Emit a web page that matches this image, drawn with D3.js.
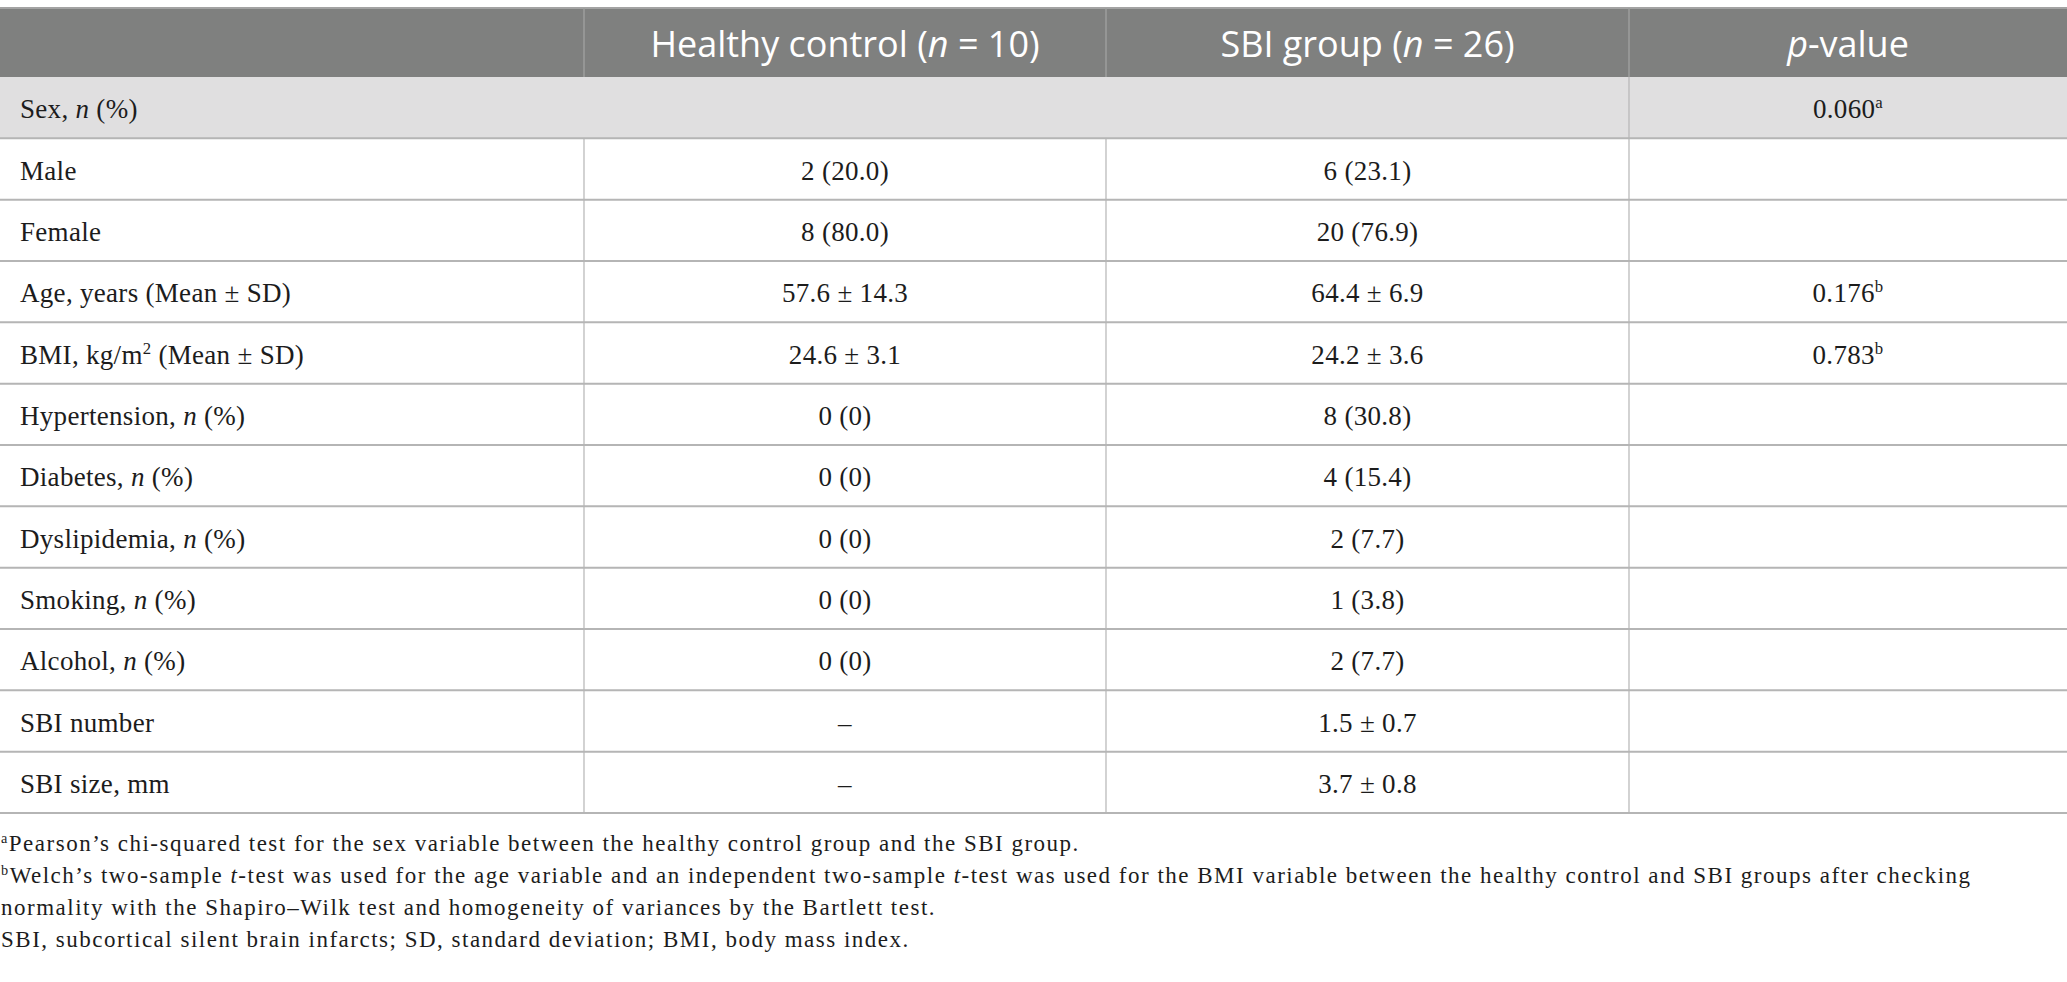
<!DOCTYPE html>
<html lang="en">
<head>
  <meta charset="UTF-8">
  <title>Table</title>
  <script src="https://d3js.org/d3.v7.min.js" charset="utf-8"></script>
  <style>
    body { margin: 0; background: #fff; }
    .cell { font-family: 'Liberation Serif', serif; font-size: 27px; fill: #1c1c1c; letter-spacing: 0.3px; }
    .head { font-family: 'Open Sans', sans-serif; font-size: 36px; fill: #fff; }
    .note { font-family: 'Liberation Serif', serif; font-size: 23px; fill: #1c1c1c; letter-spacing: 1.5px; }
  </style>
</head>
<body>
<div class="div1"></div>
</body>
<script>
  // *x* = italic, ^x = superscript
  var headers = ['', 'Healthy control (*n* = 10)', 'SBI group (*n* = 26)', '*p*-value']
  var rowLabels = ['Sex, *n* (%)', 'Male', 'Female', 'Age, years (Mean ± SD)', 'BMI, kg/m^2 (Mean ± SD)',
    'Hypertension, *n* (%)', 'Diabetes, *n* (%)', 'Dyslipidemia, *n* (%)', 'Smoking, *n* (%)',
    'Alcohol, *n* (%)', 'SBI number', 'SBI size, mm']
  var controlValues = ['', '2 (20.0)', '8 (80.0)', '57.6 ± 14.3', '24.6 ± 3.1', '0 (0)', '0 (0)',
    '0 (0)', '0 (0)', '0 (0)', '–', '–']
  var sbiValues = ['', '6 (23.1)', '20 (76.9)', '64.4 ± 6.9', '24.2 ± 3.6', '8 (30.8)', '4 (15.4)',
    '2 (7.7)', '1 (3.8)', '2 (7.7)', '1.5 ± 0.7', '3.7 ± 0.8']
  var pValues = ['0.060^a', '', '', '0.176^b', '0.783^b', '', '', '', '', '', '', '']
  var groupRows = [0]
  var footnotes = [
    '^aPearson’s chi-squared test for the sex variable between the healthy control group and the SBI group.',
    '^bWelch’s two-sample *t*-test was used for the age variable and an independent two-sample *t*-test was used for the BMI variable between the healthy control and SBI groups after checking',
    'normality with the Shapiro–Wilk test and homogeneity of variances by the Bartlett test.',
    'SBI, subcortical silent brain infarcts; SD, standard deviation; BMI, body mass index.'
  ]

  var width = 2067
  var height = 982
  var colEdges = [0, 584, 1106, 1629, 2067]
  var headTop = 8
  var headBottom = 77
  var tableBottom = 813
  var lineColor = '#b5b5b5'

  var svg = d3.select('body').select('.div1')
    .append('svg')
    .attr('width', width)
    .attr('height', height)

  var xScale = d3.scaleLinear().domain([0, 1, 2, 3, 4]).range(colEdges)
  var yScale = d3.scaleBand()
    .domain(d3.range(rowLabels.length))
    .range([headBottom, tableBottom])
  var noteScale = d3.scaleLinear().domain([0, 1]).range([851, 883])

  drawHeader()
  drawBody()
  drawNotes()

  function addRich(sel, str, size){
    let parts = str.split(/(\*[^*]+\*|\^\w)/).filter(s => s.length)
    let shift = 0
    parts.forEach(p => {
      let t = sel.append('tspan')
      if (p[0] === '^') {
        t.attr('font-size', size * 0.62).attr('dy', -size * 0.36).text(p.slice(1))
        shift = size * 0.36
        return
      }
      if (shift) { t.attr('dy', shift); shift = 0 }
      if (p[0] === '*') t.attr('font-style', 'italic').text(p.slice(1, -1))
      else t.text(p)
    })
  }

  function drawHeader(){
    svg.append('rect')
      .attr('x', 0).attr('y', headTop)
      .attr('width', width).attr('height', headBottom - headTop)
      .attr('fill', '#7f807f')
    svg.append('line')
      .attr('x1', 0).attr('x2', width)
      .attr('y1', headTop).attr('y2', headTop)
      .attr('stroke', '#a3a3a3').attr('stroke-width', 2)
    svg.selectAll('.headSep')
      .data([1, 2, 3])
      .enter()
      .append('line')
      .attr('class', 'headSep')
      .attr('x1', d => xScale(d)).attr('x2', d => xScale(d))
      .attr('y1', headTop).attr('y2', headBottom)
      .attr('stroke', '#9d9e9d').attr('stroke-width', 1.5)
    svg.selectAll('.head')
      .data(headers)
      .enter()
      .append('text')
      .attr('class', 'head')
      .attr('x', (d, i) => xScale(i + 0.5))
      .attr('y', 57)
      .attr('text-anchor', 'middle')
      .each(function(d){ addRich(d3.select(this), d, 36) })
  }

  function drawBody(){
    let bw = yScale.bandwidth()
    svg.selectAll('.groupBg')
      .data(groupRows)
      .enter()
      .append('rect')
      .attr('class', 'groupBg')
      .attr('x', 0).attr('y', d => yScale(d))
      .attr('width', width).attr('height', bw)
      .attr('fill', '#e0dfe0')

    // horizontal rules
    svg.selectAll('.hline')
      .data(d3.range(1, rowLabels.length + 1))
      .enter()
      .append('line')
      .attr('class', 'hline')
      .attr('x1', 0).attr('x2', width)
      .attr('y1', d => yScale(d - 1) + bw).attr('y2', d => yScale(d - 1) + bw)
      .attr('stroke', lineColor).attr('stroke-width', 2)

    // vertical rules, group rows are merged across the first three columns
    let vlines = []
    rowLabels.forEach((r, i) => {
      let edges = groupRows.includes(i) ? [3] : [1, 2, 3]
      edges.forEach(e => vlines.push({row: i, col: e}))
    })
    svg.selectAll('.vline')
      .data(vlines)
      .enter()
      .append('line')
      .attr('class', 'vline')
      .attr('x1', d => xScale(d.col)).attr('x2', d => xScale(d.col))
      .attr('y1', d => yScale(d.row)).attr('y2', d => yScale(d.row) + bw)
      .attr('stroke', lineColor).attr('stroke-width', 1.2)

    svg.selectAll('.label')
      .data(rowLabels)
      .enter()
      .append('text')
      .attr('class', 'cell label')
      .attr('x', 20)
      .attr('y', (d, i) => yScale(i) + bw / 2 + 10.5)
      .each(function(d){ addRich(d3.select(this), d, 27) })

    let cols = [controlValues, sbiValues, pValues]
    cols.forEach((vals, c) => {
      svg.selectAll('.val' + c)
        .data(vals)
        .enter()
        .append('text')
        .attr('class', 'cell val' + c)
        .attr('x', xScale(c + 1.5))
        .attr('y', (d, i) => yScale(i) + bw / 2 + 10.5)
        .attr('text-anchor', 'middle')
        .each(function(d){ addRich(d3.select(this), d, 27) })
    })
  }

  function drawNotes(){
    svg.selectAll('.note')
      .data(footnotes)
      .enter()
      .append('text')
      .attr('class', 'note')
      .attr('x', 1)
      .attr('y', (d, i) => noteScale(i))
      .each(function(d){ addRich(d3.select(this), d, 23) })
  }
</script>
</html>
